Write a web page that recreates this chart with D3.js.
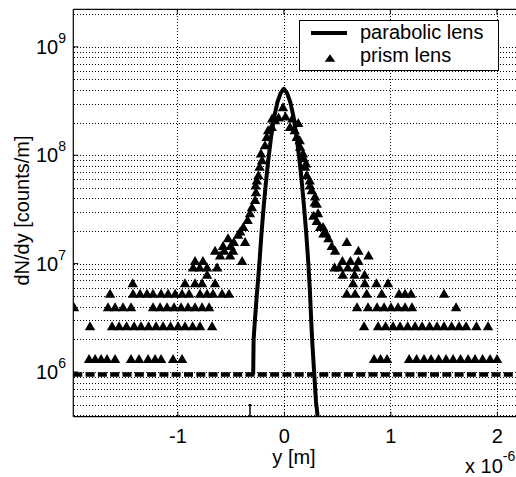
<!DOCTYPE html>
<html>
<head>
<meta charset="utf-8">
<script src="https://cdn.jsdelivr.net/npm/d3@7"></script>
<style>
  body { margin: 0; background: #fff; }
  text { font-family: "Liberation Sans", Arial, sans-serif; fill: #000; }
</style>
</head>
<body>
<svg id="chart" width="516" height="477"></svg>
<script>
// y positions in micrometres (axis shows x 10^-6), values in counts/m
var parabolicX = [-0.288, -0.284, -0.272, -0.255, -0.24, -0.23, -0.21, -0.19, -0.17, -0.15, -0.12, -0.09, -0.06, -0.03, 0,
    0.03, 0.06, 0.09, 0.12, 0.15, 0.17, 0.19, 0.21, 0.23, 0.245, 0.258, 0.268, 0.284, 0.302, 0.322, 0.335];
var parabolicY = [9.5e5, 2.0e6, 3.0e6, 5.0e6, 7.5e6, 1.0e7, 1.9e7, 3.3e7, 5.4e7, 8.4e7, 1.47e8, 2.28e8, 3.1e8, 3.74e8, 4.1e8,
    3.74e8, 3.1e8, 2.28e8, 1.47e8, 8.4e7, 5.4e7, 3.3e7, 1.9e7, 1.0e7, 5.5e6, 2.8e6, 1.8e6, 1.0e6, 5.3e5, 3.5e5, 2.5e5];

// short stub of the parabolic curve below the floor on the left
var parabolicTailX = [-0.33, -0.318, -0.318, -0.318, -0.306];
var parabolicTailY = [5.0e5, 5.0e5, 2.0e5, 5.0e5, 5.0e5];

// dashed floor line
var floorX = [-1.977, 2.25];
var floorY = [9.5e5, 9.5e5];

// prism lens: wing points sit on discrete count levels
var prismRows = [
    { y: 1.33e6, x: [-1.829, -1.772, -1.716, -1.660, -1.585, -1.435, -1.360, -1.275, -1.209, -1.153, -1.040, -0.956,
        0.847, 0.908, 0.969, 1.176, 1.246, 1.316, 1.382, 1.453, 1.523, 1.589, 1.659, 1.730, 1.795, 1.866, 1.936, 2.002] },
    { y: 2.67e6, x: [-1.820, -1.613, -1.547, -1.477, -1.406, -1.341, -1.270, -1.200, -1.134, -1.064, -0.993, -0.928, -0.857, -0.787, -0.674,
        0.753, 0.885, 0.955, 1.025, 1.091, 1.162, 1.232, 1.298, 1.368, 1.438, 1.504, 1.575, 1.645, 1.711, 1.808, 1.917] },
    { y: 4.0e6, x: [-1.970, -1.651, -1.585, -1.510, -1.435, -1.228, -1.162, -1.097, -1.031, -0.965, -0.900, -0.834, -0.768, -0.702,
        0.687, 0.790, 0.875, 0.941, 1.006, 1.072, 1.138, 1.203, 1.617] },
    { y: 5.33e6, x: [-1.632, -1.416, -1.350, -1.285, -1.228, -1.153, -1.087, -1.021, -0.956, -0.890, -0.787, -0.721, -0.665, -0.580, -0.515,
        0.591, 0.669, 0.778, 0.919, 1.082, 1.138, 1.194, 1.504] },
    { y: 6.67e6, x: [-1.419, -0.928, -0.834, -0.768, -0.646, 0.650, 0.760, 0.869, 0.978] },
    { y: 8.0e6, x: [-0.721, 0.553, 0.664, 0.758] },
    { y: 9.33e6, x: [-0.852, -0.790, -0.721, -0.627, 0.476, 0.520, 0.600, 0.680] },
    { y: 1.07e7, x: [-0.834, -0.760, -0.392, 0.550, 0.625, 0.700] },
    { y: 1.2e7, x: [-0.599, -0.505, 0.795] },
    { y: 1.33e7, x: [-0.646, -0.560, -0.477, 0.481, 0.700] },
    { y: 1.47e7, x: [-0.571, -0.500, 0.450] },
    { y: 1.6e7, x: [-0.470, -0.364, 0.591] },
    { y: 1.73e7, x: [-0.524, 0.418] },
    { y: 1.87e7, x: [-0.430] }
];

// prism lens: core of the distribution
var prismCoreX = [-0.41, -0.38, -0.34, -0.318, -0.300, -0.270, -0.262, -0.265, -0.254, -0.239, -0.228, -0.205, -0.215, -0.177, -0.161, -0.148, -0.114, -0.083,
    -0.110, -0.050, -0.008, 0.015, 0.080, 0.135,
    0.058, 0.102, 0.121, 0.149, 0.152, 0.180, 0.186, 0.199, 0.208, 0.215, 0.243, 0.246, 0.262, 0.290, 0.293, 0.309, 0.321, 0.277, 0.309, 0.340, 0.368, 0.371, 0.396];
var prismCoreY = [2.0e7, 2.2e7, 2.55e7, 2.95e7, 3.35e7, 3.9e7, 4.6e7, 5.3e7, 5.9e7, 6.6e7, 7.9e7, 9.1e7, 1.05e8, 1.25e8, 1.49e8, 1.72e8, 1.84e8, 2.12e8,
    2.2e8, 2.25e8, 2.8e8, 2.3e8, 2.2e8, 2.0e8,
    1.84e8, 1.72e8, 1.49e8, 1.39e8, 1.21e8, 1.05e8, 9.5e7, 7.9e7, 8.5e7, 6.6e7, 5.9e7, 5.3e7, 4.8e7, 3.7e7, 4.2e7, 3.6e7, 2.95e7, 2.8e7, 2.5e7, 2.2e7, 2.2e7, 1.92e7, 1.93e7];

var xTicks = [-1, 0, 1, 2];
var yDecades = [6, 7, 8, 9];
var legendLabels = ["parabolic lens", "prism lens"];

(function () {
    'use strict';

    var svg = d3.select("#chart");
    var pLeft = 73.3, pRight = 523.5, pTop = 9.3, pBottom = 416.7;

    var x = d3.scaleLinear().domain([-1.977, 2.25]).range([pLeft, pRight]);
    var y = d3.scaleLog().domain([3.87e5, 2.22e9]).range([pBottom, pTop]);

    svg.append("rect").attr("width", 516).attr("height", 477).attr("fill", "#fff");

    svg.append("clipPath").attr("id", "plotclip")
        .append("rect")
        .attr("x", pLeft).attr("y", pTop)
        .attr("width", pRight - pLeft).attr("height", pBottom - pTop);

    // dotted grid, snapped to whole pixels
    var grid = svg.append("g").attr("stroke", "#000").attr("stroke-width", 1)
        .attr("stroke-dasharray", "1,2").attr("fill", "none");
    grid.selectAll("line.h")
        .data(y.ticks())
        .enter().append("line")
        .attr("class", "h")
        .attr("x1", Math.round(pLeft) + 1).attr("x2", Math.round(pRight))
        .attr("y1", function (d) { return Math.round(y(d)) + 0.5; })
        .attr("y2", function (d) { return Math.round(y(d)) + 0.5; });
    grid.selectAll("line.v")
        .data(xTicks)
        .enter().append("line")
        .attr("class", "v")
        .attr("x1", function (d) { return Math.round(x(d)) + 0.5; })
        .attr("x2", function (d) { return Math.round(x(d)) + 0.5; })
        .attr("y1", Math.round(pTop) + 1).attr("y2", Math.round(pBottom));

    var plot = svg.append("g").attr("clip-path", "url(#plotclip)");

    var line = d3.line()
        .x(function (d) { return x(d[0]); })
        .y(function (d) { return y(d[1]); });

    // dashed floor
    plot.append("path")
        .datum(d3.zip(floorX, floorY))
        .attr("d", line)
        .attr("fill", "none")
        .attr("stroke", "#000")
        .attr("stroke-width", 4.5)
        .attr("stroke-dasharray", "9,3.3");

    // prism lens triangles
    var tri = "M0,-4.5L5.2,4.5L-5.2,4.5Z";
    var prismPts = [];
    prismRows.forEach(function (r) {
        r.x.forEach(function (v) { prismPts.push([v, r.y]); });
    });
    prismPts = prismPts.concat(d3.zip(prismCoreX, prismCoreY));

    plot.selectAll("path.tri")
        .data(prismPts)
        .enter().append("path")
        .attr("class", "tri")
        .attr("d", tri)
        .attr("transform", function (d) { return "translate(" + x(d[0]) + "," + y(d[1]) + ")"; })
        .attr("fill", "#000");

    // parabolic lens
    plot.append("path")
        .datum(d3.zip(parabolicX, parabolicY))
        .attr("d", line)
        .attr("fill", "none")
        .attr("stroke", "#000")
        .attr("stroke-width", 4)
        .attr("stroke-linejoin", "round");
    plot.append("path")
        .datum(d3.zip(parabolicTailX, parabolicTailY))
        .attr("d", line)
        .attr("fill", "none")
        .attr("stroke", "#000")
        .attr("stroke-width", 1.5);

    // axes frame
    var frame = svg.append("g").attr("stroke", "#000").attr("stroke-width", 1.2);
    frame.append("line").attr("x1", pLeft).attr("x2", pLeft).attr("y1", pTop).attr("y2", pBottom);
    frame.append("line").attr("x1", pLeft).attr("x2", pRight).attr("y1", pTop).attr("y2", pTop);
    frame.append("line").attr("x1", pLeft).attr("x2", pRight).attr("y1", pBottom).attr("y2", pBottom);

    // bottom axis with inward ticks
    var xAxis = d3.axisBottom(x)
        .tickValues(xTicks)
        .tickSizeInner(-5)
        .tickSizeOuter(0)
        .tickPadding(12)
        .tickFormat(function (d) { return String(d); });
    var gx = svg.append("g").attr("transform", "translate(0," + pBottom + ")").call(xAxis);
    gx.select(".domain").remove();
    gx.selectAll("text").attr("font-size", 20).attr("font-family", "Liberation Sans, Arial, sans-serif");

    // top ticks
    svg.append("g").selectAll("line")
        .data(xTicks)
        .enter().append("line")
        .attr("x1", function (d) { return x(d); })
        .attr("x2", function (d) { return x(d); })
        .attr("y1", pTop).attr("y2", pTop + 5)
        .attr("stroke", "#000");

    // left ticks and labels 10^n
    var gy = svg.append("g");
    gy.selectAll("line")
        .data(yDecades)
        .enter().append("line")
        .attr("x1", pLeft).attr("x2", pLeft + 5)
        .attr("y1", function (d) { return y(Math.pow(10, d)); })
        .attr("y2", function (d) { return y(Math.pow(10, d)); })
        .attr("stroke", "#000");
    var ylab = gy.selectAll("text")
        .data(yDecades)
        .enter().append("text")
        .attr("x", 66)
        .attr("y", function (d) { return y(Math.pow(10, d)) + 7; })
        .attr("text-anchor", "end")
        .attr("font-size", 20);
    ylab.append("tspan").text("10");
    ylab.append("tspan").attr("dy", -11).attr("font-size", 14).text(function (d) { return d; });

    // axis titles
    svg.append("text")
        .attr("x", 294).attr("y", 464)
        .attr("text-anchor", "middle")
        .attr("font-size", 20)
        .text("y [m]");

    var mult = svg.append("text")
        .attr("x", 465).attr("y", 473)
        .attr("font-size", 20);
    mult.append("tspan").text("x 10");
    mult.append("tspan").attr("dy", -12).attr("font-size", 14).text("-6");

    svg.append("text")
        .attr("transform", "translate(29,210.5) rotate(-90)")
        .attr("text-anchor", "middle")
        .attr("font-size", 20)
        .text("dN/dy [counts/m]");

    // legend
    var lg = svg.append("g");
    lg.append("rect")
        .attr("x", 299.5).attr("y", 20.5)
        .attr("width", 199).attr("height", 50)
        .attr("fill", "#fff").attr("stroke", "#000").attr("stroke-width", 1);
    lg.append("line")
        .attr("x1", 311).attr("x2", 347).attr("y1", 33).attr("y2", 33)
        .attr("stroke", "#000").attr("stroke-width", 4);
    lg.append("path")
        .attr("d", "M0,-3.8L5.3,3.8L-5.3,3.8Z")
        .attr("transform", "translate(330,58)")
        .attr("fill", "#000");
    lg.selectAll("text.leg")
        .data(legendLabels)
        .enter().append("text")
        .attr("class", "leg")
        .attr("x", 360)
        .attr("y", function (d, i) { return 39 + i * 23; })
        .attr("font-size", 20)
        .text(function (d) { return d; });
})();
</script>
</body>
</html>
